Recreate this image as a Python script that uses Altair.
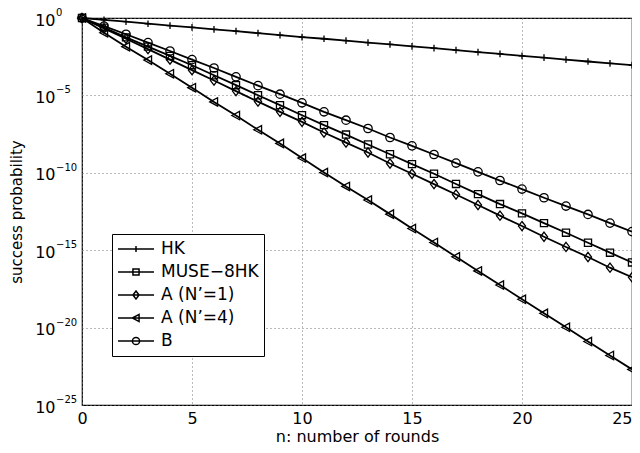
import altair as alt
import pandas as pd

# ---- data (log10 of success probability) ----
rounds = list(range(26))
series_names = ["HK", "MUSE\u22128HK", "A (N\u2019=1)", "A (N\u2019=4)", "B"]

hk_log = [0, -0.12, -0.24, -0.37, -0.49, -0.60, -0.73, -0.85, -0.98, -1.10,
          -1.23, -1.34, -1.46, -1.59, -1.71, -1.83, -1.95, -2.08, -2.20, -2.32,
          -2.45, -2.56, -2.69, -2.81, -2.93, -3.05]
muse_log = [0, -0.62, -1.25, -1.85, -2.45, -3.05, -3.70, -4.34, -4.99, -5.63,
            -6.28, -6.92, -7.53, -8.17, -8.80, -9.44, -10.06, -10.72, -11.38, -12.02,
            -12.62, -13.25, -13.87, -14.52, -15.16, -15.79]
a1_log = [0, -0.68, -1.34, -2.01, -2.69, -3.37, -4.04, -4.72, -5.40, -6.06,
          -6.71, -7.40, -8.05, -8.69, -9.40, -10.06, -10.73, -11.40, -12.08, -12.77,
          -13.44, -14.13, -14.79, -15.44, -16.13, -16.75]
a4_log = [0, -0.95, -1.85, -2.72, -3.60, -4.50, -5.42, -6.30, -7.22, -8.10,
          -9.05, -9.98, -10.88, -11.76, -12.67, -13.60, -14.50, -15.43, -16.34, -17.25,
          -18.17, -19.08, -19.98, -20.90, -21.80, -22.70]
b_log = [0, -0.52, -1.05, -1.59, -2.13, -2.69, -3.23, -3.80, -4.37, -4.92,
         -5.48, -6.06, -6.60, -7.14, -7.72, -8.26, -8.82, -9.37, -9.94, -10.50,
         -11.05, -11.61, -12.15, -12.69, -13.25, -13.80]

x_ticks = [0, 5, 10, 15, 20, 25]
y_tick_exps = [0, -5, -10, -15, -20, -25]
y_tick_exp_labels = ["0", "\u22125", "\u221210", "\u221215", "\u221220", "\u221225"]

# marker shapes (plot) and legend symbols (line + small marker)
marker_paths = [
    "M-0.8,0H0.8M0,-0.8V0.8",
    "M-0.85,-0.85H0.85V0.85H-0.85Z",
    "M0,-1.1L0.85,0L0,1.1L-0.85,0Z",
    "M-1,0L0.85,-1L0.85,1Z",
    "circle",
]
legend_paths = [
    "M-1,0H1M0,-0.17V0.17",
    "M-1,0H1M-0.17,-0.17H0.17V0.17H-0.17Z",
    "M-1,0H1M0,-0.22L0.17,0L0,0.22L-0.17,0Z",
    "M-1,0H1M-0.2,0L0.17,-0.2L0.17,0.2Z",
    "M-1,0H1M0.2,0A0.2,0.2,0,1,1,-0.2,0A0.2,0.2,0,1,1,0.2,0Z",
]

rows = []
for name, logs in zip(series_names, [hk_log, muse_log, a1_log, a4_log, b_log]):
    for n, lv in zip(rounds, logs):
        rows.append({"n": n, "series": name, "p": 10.0 ** lv})
df = pd.DataFrame(rows)

exp_df = pd.DataFrame({"p": [10.0 ** e for e in y_tick_exps], "exp": y_tick_exp_labels})

FONT = "DejaVu Sans"

x_scale = alt.Scale(domain=[0, 25], nice=False, zero=False)
y_scale = alt.Scale(type="log", domain=[1e-25, 1], nice=False)

x_enc = alt.X("n:Q", scale=x_scale,
              axis=alt.Axis(values=x_ticks, title="n: number of rounds", format="d",
                            grid=True, gridDash=[1, 3], gridColor="#777", gridWidth=1,
                            ticks=False, domain=False, labelFont=FONT, labelFontSize=16,
                            labelColor="black", labelPadding=5, titleFont=FONT,
                            titleFontSize=16, titleFontWeight="normal", titleColor="black",
                            titlePadding=2, labelFlush=False,
                            labelAlign={"condition": {"test": "datum.value == 25", "value": "right"},
                                        "value": "center"}))
y_enc = alt.Y("p:Q", scale=y_scale,
              axis=alt.Axis(values=[10.0 ** e for e in y_tick_exps], labelExpr="'10'",
                            title="success probability", grid=True, gridDash=[1, 3],
                            gridColor="#777", gridWidth=1, ticks=False, domain=False,
                            labelFont=FONT, labelFontSize=16, labelColor="black",
                            labelPadding=27, labelOffset=2, titleFont=FONT, titleFontSize=15,
                            titleFontWeight="normal", titleColor="black", titlePadding=10,
                            labelFlush=False))

base = alt.Chart(df)

lines = base.mark_line(color="black", strokeWidth=1.8).encode(
    x=x_enc, y=y_enc, detail="series:N")

points = base.mark_point(filled=False, color="black", strokeWidth=1.3, size=70, opacity=1).encode(
    x=x_enc, y=y_enc,
    shape=alt.Shape("series:N", scale=alt.Scale(domain=series_names, range=marker_paths),
                    legend=None))

legend_layer = base.transform_filter("datum.n < 0").mark_point(
    filled=False, color="black", strokeWidth=1.5, size=1296, opacity=1).encode(
    x=x_enc, y=y_enc,
    shape=alt.Shape("series:N", scale=alt.Scale(domain=series_names, range=legend_paths),
                    legend=alt.Legend(orient="none", legendX=30, legendY=216, title=None,
                                      labelFont=FONT, labelFontSize=17, labelColor="black",
                                      symbolStrokeColor="black", symbolStrokeWidth=1.5,
                                      symbolSize=1296, strokeColor="black", fillColor="white",
                                      padding=5, rowPadding=3, labelOffset=6, clipHeight=20,
                                      cornerRadius=0)))

exponents = alt.Chart(exp_df).mark_text(
    align="left", baseline="middle", font=FONT, fontSize=10, color="black", dy=-5
).encode(
    x=alt.value(-26),
    y=alt.Y("p:Q", scale=y_scale),
    text="exp:N",
)

chart = alt.layer(lines, points, legend_layer, exponents).resolve_scale(shape="independent").properties(
    width=550, height=387,
    autosize=alt.AutoSizeParams(type="none"),
    padding={"left": 74, "top": 10, "right": 0, "bottom": 45},
    background="white",
).configure_view(stroke="black", strokeWidth=1.2)

chart.save("out.html", embed_options={"renderer": "svg", "actions": False})
